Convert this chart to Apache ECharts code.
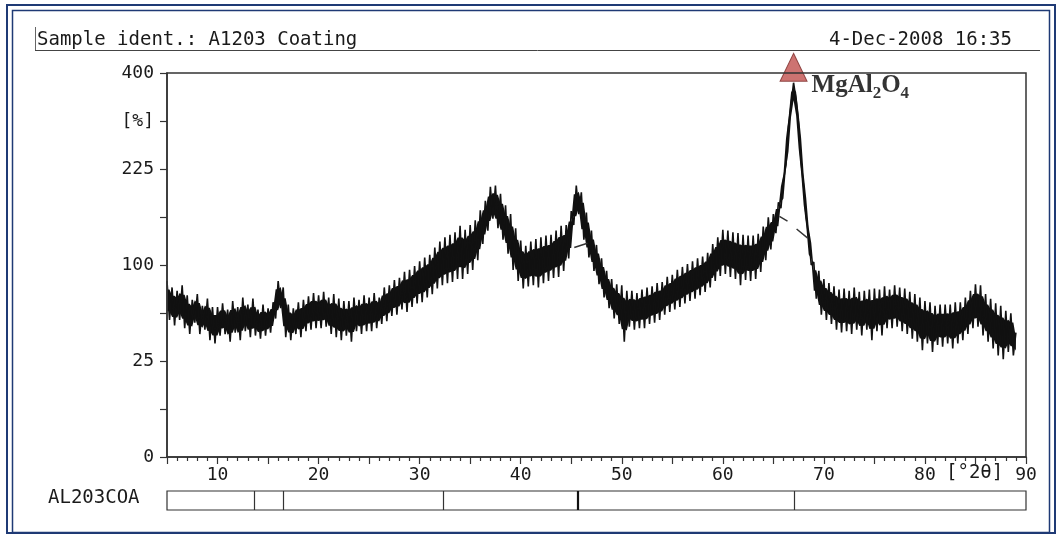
<!DOCTYPE html>
<html>
<head>
<meta charset="utf-8">
<script src="https://cdn.jsdelivr.net/npm/echarts@6/dist/echarts.min.js"></script>
<style>
  html, body { margin: 0; padding: 0; background: #fff; }
  #chart { width: 1061px; height: 534px; }
</style>
</head>
<body>
<div id="chart"></div>
<script>
// scan grid (deg 2theta)
const twoThetaStart = 5;
const twoThetaStep = 0.25;

// intensity [%], one value per step
const intensity = [
  84, 51, 78, 47, 75, 51, 80, 45,
  71, 41, 67, 49, 72, 41, 62, 44,
  68, 37, 61, 35, 61, 40, 64, 41,
  59, 36, 66, 42, 61, 37, 69, 43,
  63, 39, 68, 40, 59, 38, 63, 40,
  60, 42, 65, 52, 84, 60, 78, 39,
  63, 37, 60, 41, 65, 39, 67, 43,
  70, 44, 73, 45, 71, 45, 74, 46,
  69, 41, 72, 39, 68, 37, 66, 40,
  66, 36, 69, 43, 67, 41, 71, 43,
  69, 43, 73, 45, 69, 48, 78, 50,
  80, 54, 85, 55, 87, 59, 93, 57,
  95, 61, 99, 64, 104, 65, 108, 69,
  111, 72, 119, 77, 126, 80, 131, 82,
  134, 83, 137, 86, 145, 86, 140, 91,
  146, 95, 152, 105, 165, 123, 178, 139,
  198, 154, 200, 142, 188, 128, 172, 112,
  160, 95, 142, 84, 127, 77, 121, 79,
  126, 80, 129, 78, 131, 82, 133, 84,
  134, 87, 139, 88, 145, 94, 146, 107,
  164, 146, 200, 160, 190, 128, 162, 108,
  139, 94, 122, 81, 107, 69, 94, 60,
  86, 52, 81, 48, 80, 36, 75, 46,
  75, 44, 73, 45, 76, 45, 78, 48,
  79, 49, 82, 51, 83, 55, 88, 57,
  90, 59, 95, 61, 98, 64, 101, 66,
  104, 68, 107, 71, 109, 74, 113, 78,
  123, 84, 131, 89, 140, 91, 139, 88,
  137, 86, 136, 80, 134, 85, 133, 84,
  133, 86, 135, 93, 144, 105, 156, 117,
  160, 136, 176, 168, 208, 232, 296, 336,
  380, 346, 300, 236, 198, 156, 132, 100,
  103, 68, 94, 55, 86, 51, 82, 48,
  79, 44, 76, 42, 77, 43, 75, 41,
  78, 44, 74, 40, 75, 44, 76, 37,
  77, 43, 76, 40, 79, 45, 76, 45,
  80, 46, 78, 43, 77, 41, 74, 38,
  72, 36, 69, 31, 66, 35, 65, 30,
  62, 34, 63, 33, 63, 35, 63, 32,
  65, 35, 65, 37, 69, 41, 75, 45,
  81, 46, 80, 40, 72, 36, 68, 32,
  64, 28, 62, 26, 58, 30, 56, 28,
  42
];

// fitted background under the two sharp peaks ("-" = gap)
const bgFit45 = [[45.3, 119], [46.6, 124]];
const bgFit67 = [[65.6, 157], [66.4, 151], [66.9, "-"], [67.3, 141], [68.4, 130]];

// square-root intensity axis: ticks every 2.5 in sqrt units
const yTickLabels = ["0", "", "25", "", "100", "", "225", "[%]", "400"];

// peak list bar under the scan
const peakBarLines = [13.6, 16.5, 32.3, 67.1];
const peakBarBold = [45.6];

const marker = { name: "MgAl2O4", twoTheta: 67.0, intensity: 412 };

const mono = "DejaVu Sans Mono";
const ink = "#1a1a1a";
const frame = "#1f3a75";

const xAt = (i) => twoThetaStart + i * twoThetaStep;
const scanData = intensity.map((v, i) => [xAt(i), Math.sqrt(v)]);
const sqrtPts = (arr) => arr.map((p) => [p[0], p[1] === "-" ? "-" : Math.sqrt(p[1])]);

// dense core of the noisy trace: inner part of the local min..max range.
// black area under the upper edge, then white area under the lower edge
const coreHi = [];
const coreLo = [];
intensity.forEach((v, i) => {
  const nb = intensity.slice(Math.max(0, i - 1), i + 2).map(Math.sqrt);
  const lo = Math.min(...nb);
  const hi = Math.max(...nb);
  coreHi.push([xAt(i), hi - 0.22 * (hi - lo)]);
  coreLo.push([xAt(i), lo + 0.22 * (hi - lo)]);
});
// let the white cover run a little past the end so no seam shows
coreLo.push([xAt(intensity.length - 1) + 0.3, coreLo[coreLo.length - 1][1]]);

const chart = echarts.init(document.getElementById("chart"));

chart.setOption({
  animation: false,
  backgroundColor: "#fff",
  grid: [
    { left: 167, right: 35, top: 73, bottom: 77, show: true, borderColor: "#333", borderWidth: 1.5, z: 10 },
    { left: 167, right: 35, top: 491, height: 19, show: true, borderColor: "#333", borderWidth: 1.2 },
  ],
  xAxis: [
    {
      type: "value",
      min: 5,
      max: 90,
      interval: 5,
      z: 10,
      axisLine: { lineStyle: { color: "#333", width: 1.5 } },
      axisTick: { length: 7, lineStyle: { color: "#333", width: 1.2 } },
      minorTick: { show: true, splitNumber: 5, length: 4, lineStyle: { color: "#333", width: 1.2 } },
      splitLine: { show: false },
      axisLabel: {
        margin: 9,
        color: ink,
        fontFamily: mono,
        fontSize: 18,
        formatter: (v) => (v % 10 === 0 ? String(v) : ""),
      },
    },
    { gridIndex: 1, type: "value", min: 5, max: 90, show: false },
  ],
  yAxis: [
    {
      type: "value",
      min: 0,
      max: 20,
      interval: 2.5,
      z: 10,
      axisLine: { show: true, lineStyle: { color: "#333", width: 1.5 } },
      axisTick: { show: true, length: 7, lineStyle: { color: "#333", width: 1.2 } },
      splitLine: { show: false },
      axisLabel: {
        margin: 13,
        color: ink,
        fontFamily: mono,
        fontSize: 18,
        formatter: (v) => yTickLabels[Math.round(v / 2.5)] || "",
      },
    },
    { gridIndex: 1, type: "value", min: 0, max: 1, show: false },
  ],
  series: [
    {
      type: "line",
      data: coreHi,
      symbol: "none",
      lineStyle: { width: 0 },
      areaStyle: { color: "#111", opacity: 1 },
      z: 2,
    },
    {
      type: "line",
      data: coreLo,
      symbol: "none",
      lineStyle: { width: 0 },
      areaStyle: { color: "#fff", opacity: 1 },
      z: 3,
    },
    {
      type: "line",
      data: scanData,
      symbol: "none",
      lineStyle: { color: "#111", width: 1.6 },
      z: 4,
    },
    {
      type: "line",
      data: sqrtPts(bgFit45),
      symbol: "none",
      lineStyle: { color: "#333", width: 1.5 },
      z: 5,
    },
    {
      type: "line",
      data: sqrtPts(bgFit67),
      symbol: "none",
      connectNulls: false,
      lineStyle: { color: "#333", width: 1.5 },
      z: 5,
    },
    {
      type: "scatter",
      data: [[marker.twoTheta, Math.sqrt(marker.intensity)]],
      clip: false,
      symbol: "triangle",
      symbolSize: [27, 28],
      itemStyle: { color: "#c0504d", borderColor: "#7a2a28", borderWidth: 1 },
      z: 6,
      label: {
        show: true,
        position: "right",
        distance: 4,
        offset: [0, 20],
        formatter: "{b|MgAl}{s|2}{b|O}{s|4}",
        rich: {
          b: { fontFamily: "Liberation Serif", fontWeight: "bold", fontSize: 25, color: "#000", verticalAlign: "bottom", padding: [0, 0, 4, 0] },
          s: { fontFamily: "Liberation Serif", fontWeight: "bold", fontSize: 17, color: "#000", verticalAlign: "bottom" },
        },
      },
    },
    {
      type: "line",
      xAxisIndex: 1,
      yAxisIndex: 1,
      data: [],
      silent: true,
      markLine: {
        symbol: "none",
        silent: true,
        label: { show: false },
        lineStyle: { color: "#333", type: "solid", width: 1.2 },
        data: peakBarLines.map((x) => ({ xAxis: x })),
      },
    },
    {
      type: "line",
      xAxisIndex: 1,
      yAxisIndex: 1,
      data: [],
      silent: true,
      markLine: {
        symbol: "none",
        silent: true,
        label: { show: false },
        lineStyle: { color: "#111", type: "solid", width: 2.2 },
        data: peakBarBold.map((x) => ({ xAxis: x })),
      },
    },
  ],
  graphic: [
    // double page frame
    { type: "rect", shape: { x: 7, y: 5, width: 1048, height: 528 }, style: { fill: null, stroke: frame, lineWidth: 2 } },
    { type: "rect", shape: { x: 12.5, y: 10.5, width: 1037, height: 522 }, style: { fill: null, stroke: frame, lineWidth: 1.5 } },
    // header
    { type: "line", shape: { x1: 35, y1: 50.5, x2: 1040, y2: 50.5 }, style: { stroke: "#444", lineWidth: 1 } },
    { type: "line", shape: { x1: 35.5, y1: 27, x2: 35.5, y2: 50 }, style: { stroke: "#666", lineWidth: 1 } },
    { type: "text", left: 37, top: 31, style: { text: "Sample ident.: A1203 Coating", font: "19px " + mono, fill: ink } },
    { type: "text", right: 49, top: 31, style: { text: "4-Dec-2008 16:35", font: "19px " + mono, fill: ink } },
    // axis unit and peak bar label
    { type: "text", left: 946, top: 464, style: { text: "[°2θ]", font: "19px " + mono, fill: ink } },
    { type: "text", left: 48, top: 489, style: { text: "AL203COA", font: "19px " + mono, fill: ink } },
  ],
});
</script>
</body>
</html>
